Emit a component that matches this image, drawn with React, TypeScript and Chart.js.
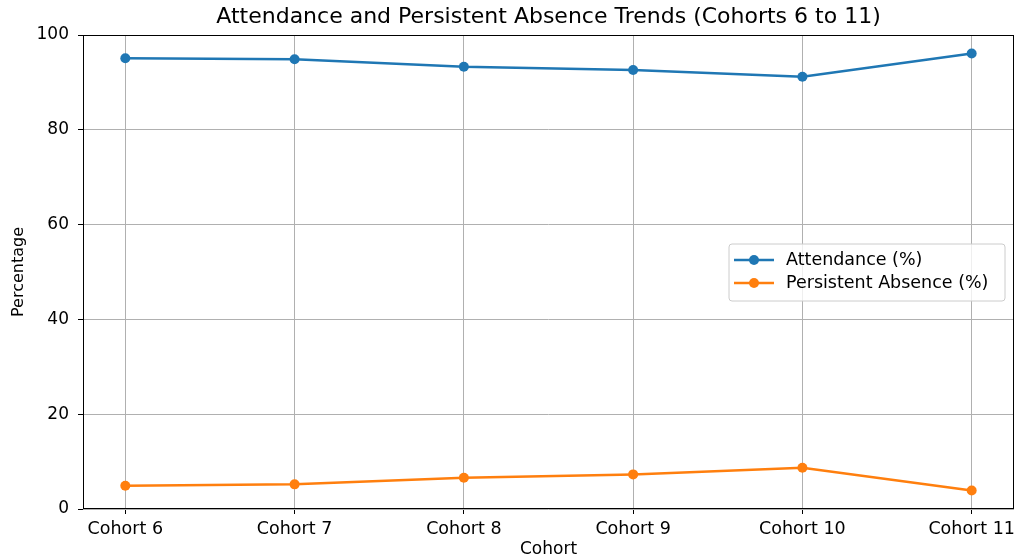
import React, { useEffect, useRef } from "react";
import { Chart, registerables } from "chart.js";

Chart.register(...registerables);

const cohorts = ["Cohort 6", "Cohort 7", "Cohort 8", "Cohort 9", "Cohort 10", "Cohort 11"];
const attendance = [95.1, 94.9, 93.3, 92.6, 91.2, 96.1];
const persistentAbsence = [4.9, 5.2, 6.6, 7.3, 8.7, 3.9];
const yTicks = [0, 20, 40, 60, 80, 100];
const seriesNames = ["Attendance (%)", "Persistent Absence (%)"];
const seriesColors = ["#1f77b4", "#ff7f0e"];
const titleText = "Attendance and Persistent Absence Trends (Cohorts 6 to 11)";

const FONT = "'DejaVu Sans', sans-serif";
const TICK_SIZE = 17.5;

const decorPlugin = {
  id: "decor",
  afterDraw(chart: any) {
    const { ctx, chartArea } = chart;
    const { left, right, top, bottom } = chartArea;
    ctx.save();
    // frame (spines)
    ctx.strokeStyle = "#000";
    ctx.lineWidth = 1;
    ctx.strokeRect(Math.round(left) + 0.5, Math.round(top) + 0.5, Math.round(right - left) - 1, Math.round(bottom - top) - 1);

    // title
    ctx.fillStyle = "#000";
    ctx.font = `22px ${FONT}`;
    ctx.textAlign = "center";
    ctx.textBaseline = "middle";
    ctx.fillText(titleText, (left + right) / 2, 17);

    // legend
    const bx = right - 285;
    const by = top + 209;
    const bw = 276;
    const bh = 57;
    const r = 3;
    ctx.beginPath();
    ctx.moveTo(bx + r, by);
    ctx.lineTo(bx + bw - r, by);
    ctx.arcTo(bx + bw, by, bx + bw, by + r, r);
    ctx.lineTo(bx + bw, by + bh - r);
    ctx.arcTo(bx + bw, by + bh, bx + bw - r, by + bh, r);
    ctx.lineTo(bx + r, by + bh);
    ctx.arcTo(bx, by + bh, bx, by + bh - r, r);
    ctx.lineTo(bx, by + r);
    ctx.arcTo(bx, by, bx + r, by, r);
    ctx.closePath();
    ctx.fillStyle = "rgba(255,255,255,0.8)";
    ctx.fill();
    ctx.strokeStyle = "#cccccc";
    ctx.lineWidth = 1;
    ctx.stroke();

    seriesNames.forEach((name, i) => {
      const ry = by + 16 + i * 23;
      ctx.strokeStyle = seriesColors[i];
      ctx.lineWidth = 2.5;
      ctx.beginPath();
      ctx.moveTo(bx + 5, ry);
      ctx.lineTo(bx + 45, ry);
      ctx.stroke();
      ctx.fillStyle = seriesColors[i];
      ctx.beginPath();
      ctx.arc(bx + 25, ry, 5, 0, Math.PI * 2);
      ctx.fill();
      ctx.fillStyle = "#000";
      ctx.font = `${TICK_SIZE}px ${FONT}`;
      ctx.textAlign = "left";
      ctx.textBaseline = "middle";
      ctx.fillText(name, bx + 57, ry);
    });
    ctx.restore();
  },
};

export default function App() {
  const ref = useRef<HTMLCanvasElement>(null);

  useEffect(() => {
    document.body.style.margin = "0";
    const canvas = ref.current!;
    const mk = (vals: number[]) => vals.map((v, i) => ({ x: i, y: v }));
    const chart = new Chart(canvas, {
      type: "line",
      data: {
        datasets: [attendance, persistentAbsence].map((vals, i) => ({
          label: seriesNames[i],
          data: mk(vals),
          borderColor: seriesColors[i],
          backgroundColor: seriesColors[i],
          borderWidth: 2.5,
          pointRadius: 5,
          pointBorderWidth: 0,
          pointBackgroundColor: seriesColors[i],
          tension: 0,
          fill: false,
        })),
      },
      options: {
        animation: false,
        responsive: false,
        devicePixelRatio: 1,
        layout: { padding: { top: 35, left: 0, right: 3, bottom: 0 } },
        plugins: {
          legend: { display: false },
          title: { display: false },
          tooltip: { enabled: false },
        },
        scales: {
          x: {
            type: "linear",
            min: -0.25,
            max: cohorts.length - 0.75,
            afterBuildTicks: (scale: any) => {
              scale.ticks = cohorts.map((_, i) => ({ value: i }));
            },
            afterFit: (scale: any) => {
              scale.height = 49;
              scale.paddingLeft = 0;
              scale.paddingRight = 0;
            },
            ticks: {
              autoSkip: false,
              maxRotation: 0,
              padding: 5,
              color: "#000",
              font: { family: FONT, size: TICK_SIZE },
              callback: (v: any) => cohorts[Math.round(Number(v))] ?? "",
            },
            grid: {
              color: "#b0b0b0",
              lineWidth: 1,
              drawTicks: true,
              tickLength: 5,
              tickColor: "#000",
            },
            border: { display: false },
            title: {
              display: true,
              text: "Cohort",
              color: "#000",
              font: { family: FONT, size: 17, lineHeight: 1 },
              padding: { top: 0, bottom: 0 },
            },
          },
          y: {
            type: "linear",
            min: 0,
            max: 100,
            afterBuildTicks: (scale: any) => {
              scale.ticks = yTicks.map((v) => ({ value: v }));
            },
            afterFit: (scale: any) => {
              scale.width = 83;
              scale.paddingTop = 0;
              scale.paddingBottom = 0;
            },
            ticks: {
              padding: 9,
              color: "#000",
              font: { family: FONT, size: 17 },
            },
            grid: {
              color: "#b0b0b0",
              lineWidth: 1,
              drawTicks: true,
              tickLength: 5,
              tickColor: "#000",
            },
            border: { display: false },
            title: {
              display: true,
              text: "Percentage",
              color: "#000",
              font: { family: FONT, size: 16 },
              padding: { top: 9, bottom: 0 },
            },
          },
        },
      },
      plugins: [decorPlugin],
    } as any);
    return () => chart.destroy();
  }, []);

  return (
    <div style={{ width: 1019, height: 558, background: "#fff" }}>
      <canvas ref={ref} width={1019} height={558} style={{ display: "block" }} />
    </div>
  );
}
